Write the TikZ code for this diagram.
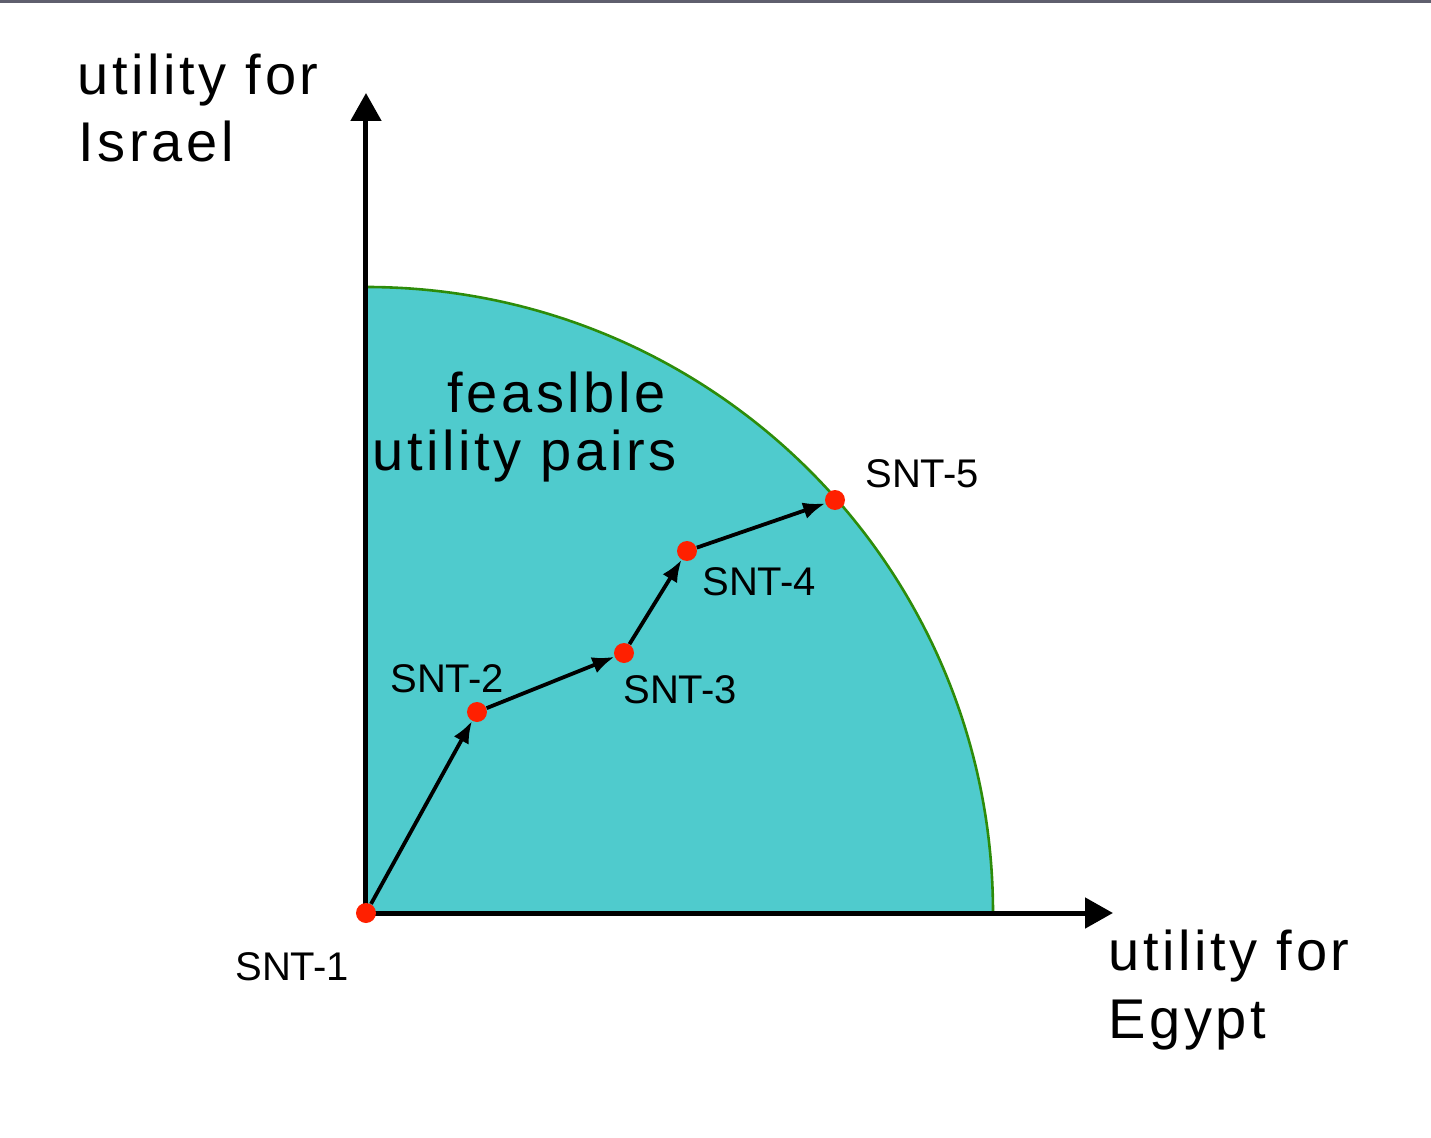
\documentclass[tikz,border=0pt]{standalone}
\usepackage{fontspec}
\setmainfont{Liberation Sans}
\newfontfamily\widefont[LetterSpace=6.5]{Liberation Sans}
\usetikzlibrary{arrows.meta}
\definecolor{feasfill}{RGB}{79,203,205}
\definecolor{feasedge}{RGB}{45,140,10}
\definecolor{dotred}{RGB}{255,32,0}
\definecolor{topbar}{RGB}{95,95,110}
\tikzset{
  axis/.style={line width=2.5pt,-{Triangle[length=14pt,width=15pt]}},
  pth/.style={line width=1.9pt,-{Latex[length=11pt,width=8.5pt]}},
  dot/.style={circle,fill=dotred,inner sep=0pt,minimum size=10pt},
  sntlabel/.style={anchor=base west,inner sep=0pt,font=\fontsize{20}{24}\selectfont},
  biglabel/.style={anchor=base west,inner sep=0pt,font=\widefont\fontsize{28}{33}\selectfont},
}
\begin{document}
\begin{tikzpicture}[x=0.5pt,y=0.5pt]
\useasboundingbox (-366,-224) rectangle (1065,913);
\fill[topbar] (-366,910) rectangle (1065,913);
% feasible region
\fill[feasfill] (0,0) -- (0,626) arc[start angle=90,end angle=0,x radius=627,y radius=626] -- cycle;
\draw[feasedge,line width=1.3pt] (0,626) arc[start angle=90,end angle=0,x radius=627,y radius=626];
% axes
\coordinate (O) at (0,0);
\coordinate (ytip) at (0,820);
\coordinate (xtip) at (747,0);
\draw[axis] (0,-1) -- (ytip);
\draw[axis] (-1,0) -- (xtip);
% points
\node[dot] (s1) at (0,0) {};
\node[dot] (s2) at (111,201) {};
\node[dot] (s3) at (258,260) {};
\node[dot] (s4) at (321,362) {};
\node[dot] (s5) at (469,413) {};
\draw[pth] (s1) -- (s2);
\draw[pth] (s2) -- (s3);
\draw[pth] (s3) -- (s4);
\draw[pth] (s4) -- (s5);
% labels
\node[sntlabel] (l1) at (-131,-67) {SNT-1};
\node[sntlabel] (l2) at (24,221) {SNT-2};
\node[sntlabel] (l3) at (257,210) {SNT-3};
\node[sntlabel] (l4) at (336,318) {SNT-4};
\node[sntlabel] (l5) at (499,426) {SNT-5};
\node[biglabel] (ya) at (-289,818) {utility for};
\node[biglabel] (yb) at (-288,751) {Israel};
\node[biglabel] (fa) at (81,501) {feaslble};
\node[biglabel] (fb) at (6,443) {utility pairs};
\node[biglabel] (xa) at (742,-57) {utility for};
\node[biglabel] (xb) at (742,-125) {Egypt};
\end{tikzpicture}
\end{document}
